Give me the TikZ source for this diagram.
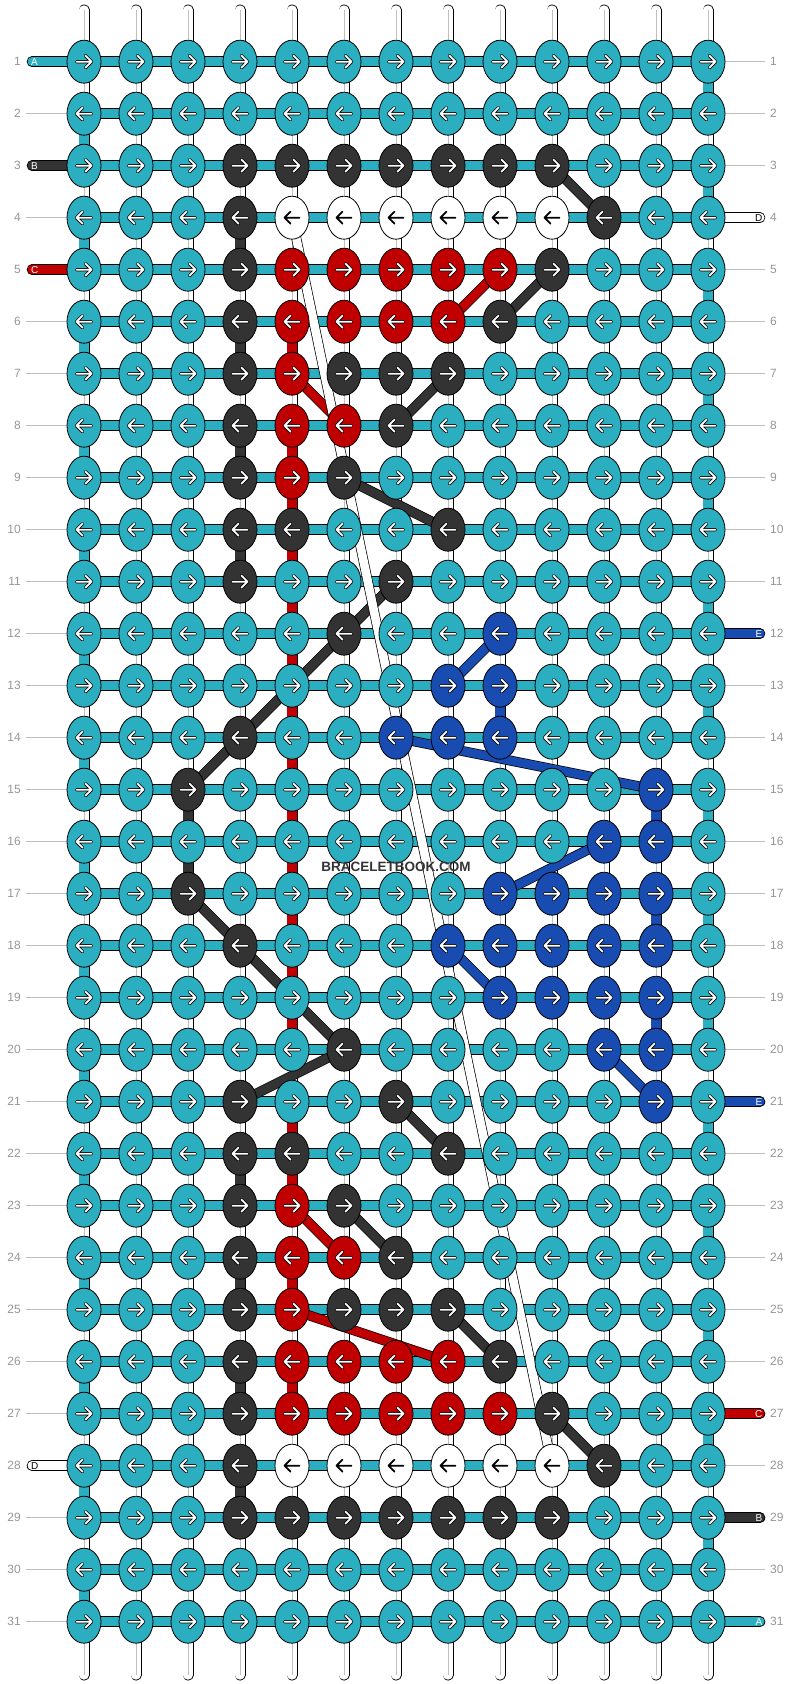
\documentclass[tikz,border=0pt]{standalone}
\usepackage{fontspec}
\setmainfont{Liberation Sans}
\usetikzlibrary{shapes.geometric,positioning,backgrounds}

\definecolor{kt}{RGB}{43,174,191}
\definecolor{kd}{RGB}{51,51,51}
\definecolor{kr}{RGB}{192,0,0}
\definecolor{kb}{RGB}{24,76,176}
\colorlet{kw}{white}
% arrow colours: a = arrow, o = its outline
\colorlet{at}{white}\colorlet{ot}{black}
\colorlet{ad}{white}\colorlet{od}{black}
\colorlet{ar}{white}\colorlet{or}{black}
\colorlet{ab}{white}\colorlet{ob}{black}
\colorlet{aw}{black}\colorlet{ow}{white}
\definecolor{numgray}{RGB}{150,150,150}
\definecolor{linegray}{RGB}{190,190,190}

\pgfdeclarelayer{strands}
\pgfdeclarelayer{threads}
\pgfsetlayers{strands,threads,main}

\begin{document}
\begin{tikzpicture}[x=1pt,y=-1pt]
\tikzset{
    %Define style for knots
    knot/.style={
           ellipse,
           draw=black, line width=0.8pt,
           minimum width=34pt,
           minimum height=43pt,
           inner sep=0pt},
    % arrow inside a knot
    arrback/.style={line width=3.4pt, line cap=round, line join=round},
    arrfront/.style={line width=1.8pt, line cap=round, line join=round},
    % vertical strings
    vout/.style={line width=11pt, line cap=round, draw=black},
    vin/.style={line width=9.4pt, line cap=round, draw=white},
    vmid/.style={line width=0.7pt, draw=linegray},
    segout/.style={line width=11pt, draw=black},
    segin/.style={line width=9.4pt},
    % horizontal strings and end tags
    hout/.style={line width=10.6pt, line cap=round, draw=black},
    hin/.style={line width=9pt, line cap=round},
    % strings crossing the pattern
    thread/.style={draw=black, line width=0.7pt, double distance=8.6pt},
    rowline/.style={draw=linegray, line width=0.8pt},
    rownum/.style={text=numgray, font=\fontsize{12}{14}\selectfont, inner sep=0pt},
    tagtext/.style={font=\fontsize{10}{12}\selectfont, inner sep=0pt}
}
\useasboundingbox (0,0) rectangle (792,1684);

 %knots
 \foreach \r/\row in {
   1/{t,t,t,t,t,t,t,t,t,t,t,t,t},
   2/{t,t,t,t,t,t,t,t,t,t,t,t,t},
   3/{t,t,t,d,d,d,d,d,d,d,t,t,t},
   4/{t,t,t,d,w,w,w,w,w,w,d,t,t},
   5/{t,t,t,d,r,r,r,r,r,d,t,t,t},
   6/{t,t,t,d,r,r,r,r,d,t,t,t,t},
   7/{t,t,t,d,r,d,d,d,t,t,t,t,t},
   8/{t,t,t,d,r,r,d,t,t,t,t,t,t},
   9/{t,t,t,d,r,d,t,t,t,t,t,t,t},
   10/{t,t,t,d,d,t,t,d,t,t,t,t,t},
   11/{t,t,t,d,t,t,d,t,t,t,t,t,t},
   12/{t,t,t,t,t,d,t,t,b,t,t,t,t},
   13/{t,t,t,t,t,t,t,b,b,t,t,t,t},
   14/{t,t,t,d,t,t,b,b,b,t,t,t,t},
   15/{t,t,d,t,t,t,t,t,t,t,t,b,t},
   16/{t,t,t,t,t,t,t,t,t,t,b,b,t},
   17/{t,t,d,t,t,t,t,t,b,b,b,b,t},
   18/{t,t,t,d,t,t,t,b,b,b,b,b,t},
   19/{t,t,t,t,t,t,t,t,b,b,b,b,t},
   20/{t,t,t,t,t,d,t,t,t,t,b,b,t},
   21/{t,t,t,d,t,t,d,t,t,t,t,b,t},
   22/{t,t,t,d,d,t,t,d,t,t,t,t,t},
   23/{t,t,t,d,r,d,t,t,t,t,t,t,t},
   24/{t,t,t,d,r,r,d,t,t,t,t,t,t},
   25/{t,t,t,d,r,d,d,d,t,t,t,t,t},
   26/{t,t,t,d,r,r,r,r,d,t,t,t,t},
   27/{t,t,t,d,r,r,r,r,r,d,t,t,t},
   28/{t,t,t,d,w,w,w,w,w,w,d,t,t},
   29/{t,t,t,d,d,d,d,d,d,d,t,t,t},
   30/{t,t,t,t,t,t,t,t,t,t,t,t,t},
   31/{t,t,t,t,t,t,t,t,t,t,t,t,t}}{
   \pgfmathsetmacro\dir{2*mod(\r,2)-1}
   \foreach \k [count=\c] in \row {
     \node[knot, fill=k\k] (k-\r-\c) at ({84+52*(\c-1)},{61.7+52*(\r-1)}) {};
     \begin{scope}[shift={(k-\r-\c.center)}, xscale=\dir]
       \draw[arrback, draw=o\k] (-7.5,0) -- (7.5,0) (1.5,-6) -- (7.5,0) -- (1.5,6);
       \draw[arrfront, draw=a\k] (-7.5,0) -- (7.5,0) (1.5,-6) -- (7.5,0) -- (1.5,6);
     \end{scope}
   }
 }

 \begin{pgfonlayer}{strands}
 % vertical strings
 \foreach \c in {1,...,13}{
   \coordinate (top-\c) at ({84+52*(\c-1)},10);
   \coordinate (bot-\c) at ({84+52*(\c-1)},1675);
   \draw[vout] (top-\c) -- (bot-\c);
   \draw[vin] (top-\c) -- (bot-\c);
   \draw[vmid] (top-\c) -- (bot-\c);
 }
 % coloured pieces between two knots
 \foreach \c/\col/\rows in {1/kt/{2,4,...,30}, 13/kt/{1,3,...,29},
     3/kd/{15,16}, 4/kd/{4,6,8,10,22,24,26,28},
     5/kr/{6,8,9,...,19,21,22,24,26}, 9/kb/{13}, 12/kb/{15,17,19}}{
   \foreach \r in \rows {
     \pgfmathtruncatemacro\s{\r+1}
     \draw[segout] (k-\r-\c.center) -- (k-\s-\c.center);
     \draw[segin, draw=\col] (k-\r-\c.center) -- (k-\s-\c.center);
   }
 }
 % horizontal strings
 \foreach \r in {1,...,31}{
   \draw[hout] (k-\r-1.center) -- (k-\r-13.center);
   \draw[hin, draw=kt] (k-\r-1.center) -- (k-\r-13.center);
 }
 % end tags, left and right
 \foreach \r/\col/\lab/\tc in {1/kt/A/white, 3/kd/B/white, 5/kr/C/white, 28/kw/D/black}{
   \coordinate (tl-\r) at (32,{61.7+52*(\r-1)});
   \draw[hout] (tl-\r) -- (k-\r-1.center);
   \draw[hin, draw=\col] (tl-\r) -- (k-\r-1.center);
   \node[tagtext, text=\tc, anchor=west] (tagl-\r) at (31,{61.7+52*(\r-1)}) {\lab};
 }
 \foreach \r/\col/\lab/\tc in {4/kw/D/black, 12/kb/E/white, 21/kb/E/white,
     27/kr/C/white, 29/kd/B/white, 31/kt/A/white}{
   \coordinate (tr-\r) at (760,{61.7+52*(\r-1)});
   \draw[hout] (k-\r-13.center) -- (tr-\r);
   \draw[hin, draw=\col] (k-\r-13.center) -- (tr-\r);
   \node[tagtext, text=\tc, anchor=east] (tagr-\r) at (762.5,{61.7+52*(\r-1)}) {\lab};
 }
 % thin lines to the row numbers
 \foreach \r in {2,4,6,7,...,27,29,30,31}{
   \coordinate (ll-\r) at (26,{61.7+52*(\r-1)});
   \draw[rowline] (ll-\r) -- (k-\r-1.west);
 }
 \foreach \r in {1,2,3,5,6,...,11,13,14,...,20,22,23,...,26,28,30}{
   \coordinate (lr-\r) at (765,{61.7+52*(\r-1)});
   \draw[rowline] (k-\r-13.east) -- (lr-\r);
 }
 \end{pgfonlayer}

 % strings that move across
 \begin{pgfonlayer}{threads}
 \foreach \a/\b/\col in {3-10/4-11/kd, 5-10/6-9/kd, 7-8/8-7/kd, 9-6/10-8/kd,
     11-7/15-3/kd, 17-3/20-6/kd, 20-6/21-4/kd, 21-7/22-8/kd, 23-6/24-7/kd,
     25-8/26-9/kd, 27-10/28-11/kd,
     5-9/6-8/kr, 7-5/8-6/kr, 23-5/24-6/kr, 25-5/26-8/kr,
     12-9/13-8/kb, 14-7/15-12/kb, 16-11/17-9/kb, 18-8/19-9/kb, 20-11/21-12/kb,
     4-5/28-10/kw}{
   \draw[thread, double=\col] (k-\a.center) -- (k-\b.center);
 }
 \end{pgfonlayer}

 % row numbers
 \foreach \r in {1,...,31}{
   \node[rownum, anchor=east] (nl-\r) at (21,{61.7+52*(\r-1)}) {\r};
   \node[rownum, anchor=west] (nr-\r) at (770,{61.7+52*(\r-1)}) {\r};
 }

 \node[font=\bfseries\fontsize{13.5}{16}\selectfont, text=kd, inner sep=0pt] (mark) at (396,867) {BRACELETBOOK.COM};
\end{tikzpicture}
\end{document}
